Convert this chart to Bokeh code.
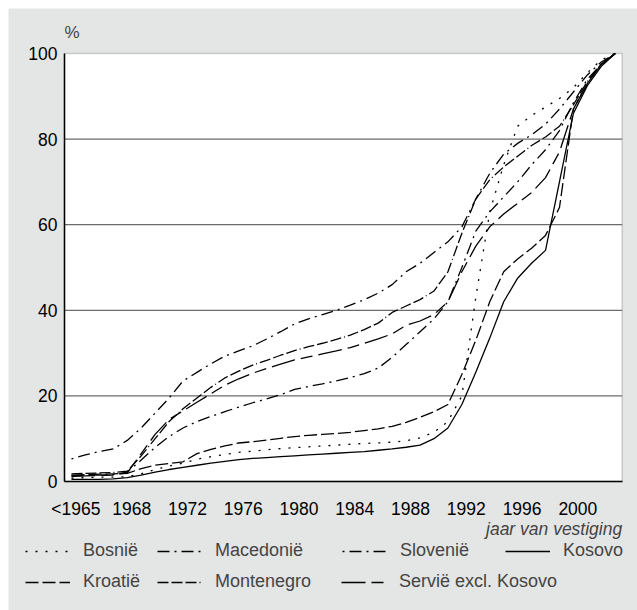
from bokeh.plotting import figure
from bokeh.models import (Legend, LegendItem, Label, FixedTicker, Range1d,
                          BoxAnnotation, LinearAxis)
from bokeh.embed import file_html
from bokeh.resources import INLINE

categories = ["<1965"] + [str(y) for y in range(1965, 2004)]
tick_labels = ["<1965", "1968", "1972", "1976", "1980", "1984", "1988", "1992", "1996", "2000"]
y_ticks = [0, 20, 40, 60, 80, 100]

bosnie = [0.8, 0.9, 1.0, 1.0, 1.1, 1.8, 2.8, 3.6, 4.3, 5.2, 5.8, 6.3, 6.8, 7.1, 7.4, 7.7, 7.9, 8.1, 8.3, 8.5,
          8.7, 8.9, 9.0, 9.2, 9.5, 10.2, 11.5, 14, 20, 43, 63, 74, 83, 85.5, 87.5, 89.5, 92, 95.5, 98.5, 100]
macedonie = [1.3, 1.4, 1.5, 1.6, 2.2, 5, 8, 10.5, 12.5, 14, 15.2, 16.3, 17.4, 18.4, 19.3, 20.3, 21.5, 22.2, 22.8, 23.5,
             24.3, 25.2, 26.5, 29, 32, 35, 38, 42, 50, 58.5, 63, 66.5, 70, 74, 77.5, 82, 88.5, 94, 97.5, 100]
slovenie = [5.3, 6.2, 7, 7.6, 9.6, 12.5, 16, 19.5, 23.5, 25.5, 27.5, 29.3, 30.5, 31.7, 33.3, 35, 36.8, 38, 39, 40,
            41.2, 42.5, 44, 46, 49, 51, 53.5, 56, 59.5, 66, 72, 76.5, 79, 81, 83.5, 87, 91, 95, 98, 100]
kosovo = [0.5, 0.5, 0.5, 0.6, 0.9, 1.5, 2.2, 2.8, 3.3, 3.8, 4.3, 4.7, 5.1, 5.4, 5.6, 5.8, 6.0, 6.2, 6.4, 6.6,
          6.8, 7.0, 7.3, 7.6, 8.0, 8.5, 10, 12.5, 18, 25.5, 33.5, 42, 47.5, 51, 54, 70, 86, 92.5, 97, 100]
kroatie = [1.5, 1.6, 1.7, 1.8, 1.9, 3.0, 3.8, 4.2, 4.6, 6.5, 7.5, 8.3, 9.0, 9.3, 9.7, 10.1, 10.5, 10.8, 11.0, 11.2,
           11.5, 11.9, 12.3, 12.9, 13.8, 15, 16.3, 18, 25, 33, 42, 49, 52, 54.5, 57.5, 64, 87, 93, 97.5, 100]
montenegro = [1.8, 1.9, 2, 2.1, 2.4, 6, 10, 14, 17, 19.5, 22, 24.2, 25.8, 27.2, 28.3, 29.5, 30.6, 31.5, 32.3, 33.2,
              34.2, 35.5, 37, 39.5, 41, 42.5, 44.5, 49, 58, 66, 70.5, 73.5, 76, 78.5, 80.5, 83, 88, 93.5, 97.5, 100]
servie = [1.2, 1.3, 1.4, 1.5, 2, 6.5, 11, 14.5, 16.5, 18.5, 20.5, 22.5, 24, 25.3, 26.4, 27.4, 28.4, 29.1, 29.8, 30.5,
          31.3, 32.3, 33.3, 34.5, 36.5, 37.5, 39, 42, 49, 55, 59.5, 62.5, 65, 67.5, 71, 77, 87, 93, 97.5, 100]

series = [
    ("Bosnië", bosnie, "2 8"),
    ("Macedonië", macedonie, "12 5 2 5"),
    ("Slovenië", slovenie, "2 5 12 5"),
    ("Kosovo", kosovo, "solid"),
    ("Kroatië", kroatie, "13 4"),
    ("Montenegro", montenegro, "11 3 11 3 11 3 1 3"),
    ("Servië excl. Kosovo", servie, "24 6 12 6"),
]

FONT = "Liberation Sans"
BG = "#e4e5e5"
GRID = "#6b6b6b"
LW = 1.3

# figure geometry (pixels inside the figure)
W, H = 629, 602
PX_L, PX_R, PY_T, PY_B = 56, 613.7, 45, 473
n = len(categories)
xs_px = (PX_R - PX_L) / n
ys_px = (PY_B - PY_T) / 100.0
x_start = -0.5 - PX_L / xs_px
x_end = n - 0.5 + (W - PX_R) / xs_px
y_end = 100 + PY_T / ys_px
y_start = -(H - PY_B) / ys_px

p = figure(width=W, height=H, output_backend="svg", toolbar_location=None,
           x_range=Range1d(x_start, x_end), y_range=Range1d(y_start, y_end),
           x_axis_type=None, y_axis_type=None, min_border=0,
           background_fill_color=BG, border_fill_color=BG, outline_line_color=None)
p.margin = (8, 0, 0, 8)
p.xgrid.visible = False
p.ygrid.visible = False

# white plotting area with its grey outline
p.add_layout(BoxAnnotation(left=-0.5, right=n - 0.5, bottom=0, top=100,
                           fill_color="white", fill_alpha=1, line_color=GRID,
                           line_width=1.5, level="underlay"))
# horizontal grid lines
grid_vals = y_ticks[1:-1]
p.segment(x0=[-0.5] * len(grid_vals), x1=[n - 0.5] * len(grid_vals),
          y0=grid_vals, y1=grid_vals, line_color=GRID, line_width=1.2)

xs = list(range(n))
renderers = {}
for name, vals, dash in series:
    renderers[name] = p.line(xs, vals, line_color="black", line_width=LW, line_dash=dash)

# axes fixed at the plotting area edges
tick_pos = [categories.index(t) + 0.32 for t in tick_labels]
xaxis = LinearAxis(fixed_location=0, bounds=(-0.5, n - 0.5),
                   ticker=FixedTicker(ticks=tick_pos),
                   major_label_overrides={tp: t for tp, t in zip(tick_pos, tick_labels)})
yaxis = LinearAxis(fixed_location=-0.5, bounds=(0, 100), ticker=FixedTicker(ticks=y_ticks))
for ax in (xaxis, yaxis):
    ax.major_tick_line_color = None
    ax.minor_tick_line_color = None
    ax.major_tick_out = 0
    ax.major_tick_in = 0
    ax.major_label_text_font = FONT
    ax.major_label_text_font_size = "17.5px"
    ax.major_label_text_color = "black"
    ax.axis_line_color = "black"
    ax.axis_line_width = 1.5
xaxis.major_label_standoff = 17
yaxis.major_label_standoff = 7
p.add_layout(xaxis, "below")
p.add_layout(yaxis, "left")

# texts
def page_to_y(page_y):
    return (PY_B + 8 - page_y) / ys_px

p.add_layout(Label(x=-0.5, y=page_to_y(32), text="%", text_font=FONT, text_font_size="17px",
                   text_baseline="middle", text_align="left"))
p.add_layout(Label(x=n - 0.5, y=page_to_y(528), text="jaar van vestiging", text_font=FONT,
                   text_font_size="17.5px", text_font_style="italic",
                   text_baseline="middle", text_align="right"))

# legend entries (page x of glyph start, page y of row centre)
row1, row2 = 551, 582
legend_pos = {
    "Bosnië": (25, row1), "Macedonië": (157, row1), "Slovenië": (342, row1), "Kosovo": (505, row1),
    "Kroatië": (25, row2), "Montenegro": (157, row2), "Servië excl. Kosovo": (341, row2),
}
LH = 20
for name, (gx, cy) in legend_pos.items():
    lg = Legend(items=[LegendItem(label=name, renderers=[renderers[name]])],
                location=(gx - 8, (H + 8) - (cy + LH / 2)),
                padding=0, margin=0, spacing=0, border_line_color=None,
                background_fill_alpha=0, glyph_width=45, glyph_height=LH,
                label_standoff=13, label_text_font=FONT, label_text_font_size="18px",
                label_height=LH)
    p.add_layout(lg, "center")

open("out.html", "w").write(file_html(p, INLINE))
